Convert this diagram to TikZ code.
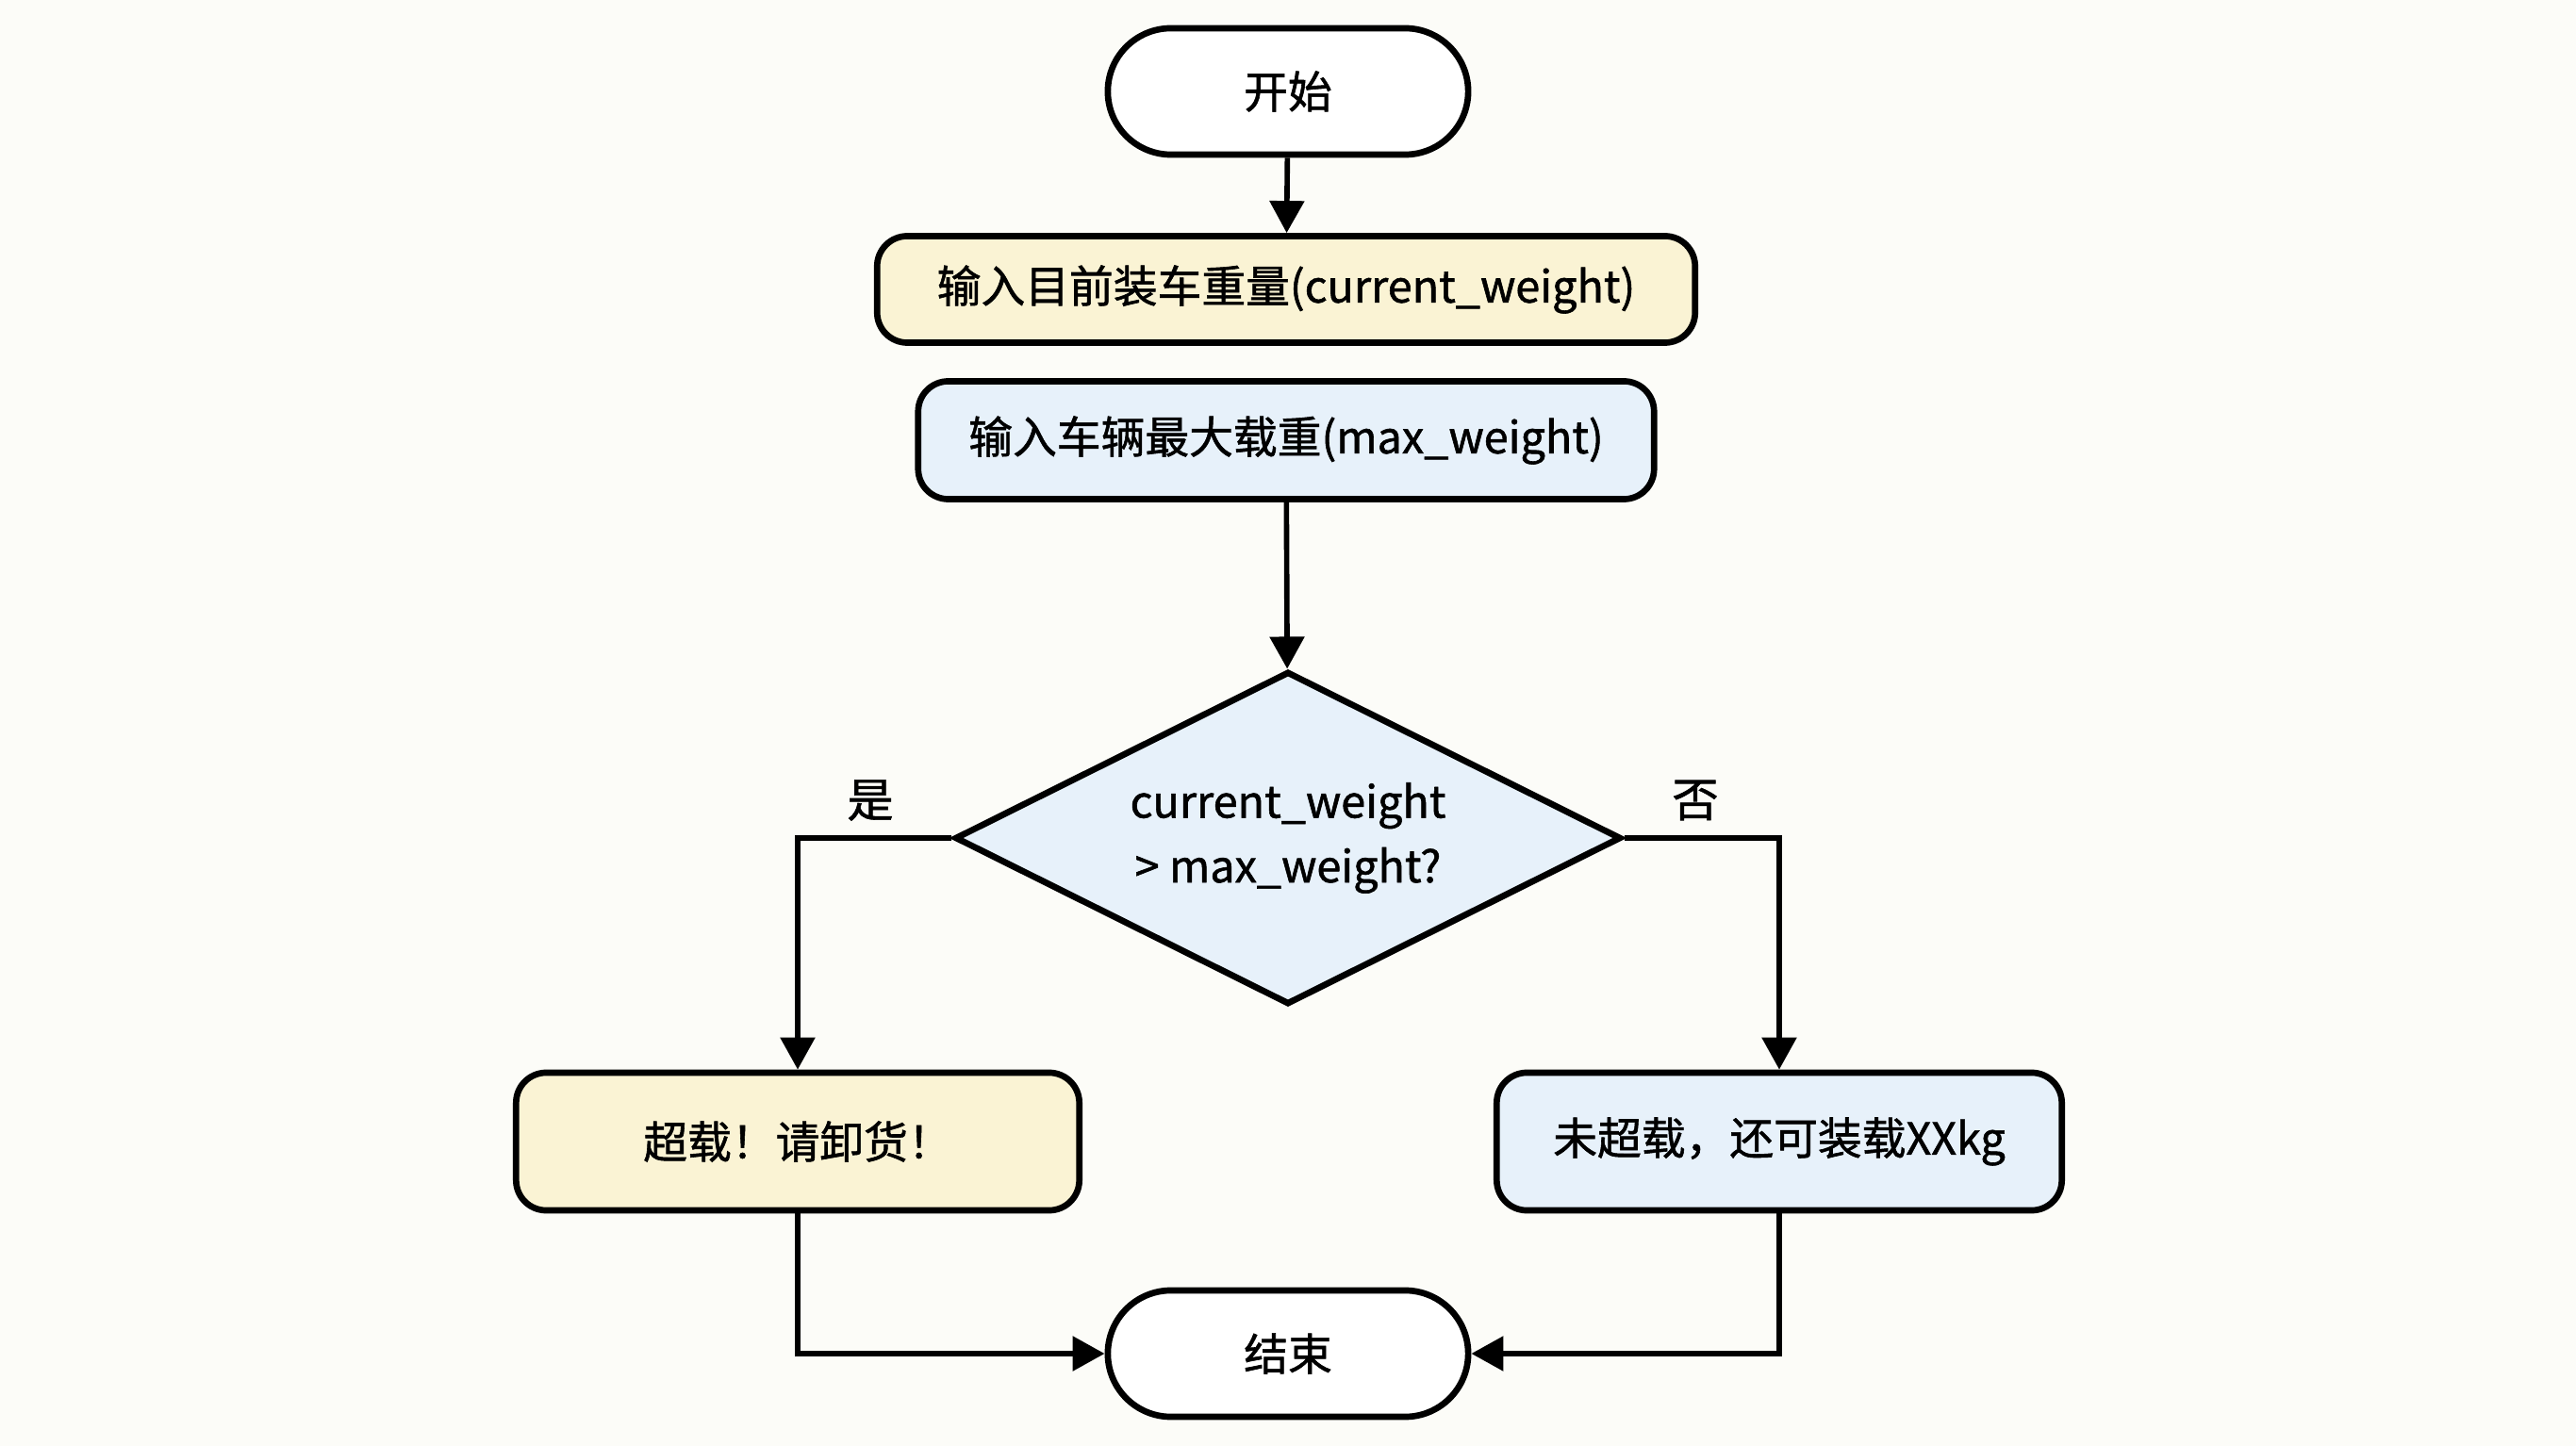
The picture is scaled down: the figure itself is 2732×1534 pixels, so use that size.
\documentclass[tikz,border=0pt]{standalone}
\usepackage{fontspec}
\setmainfont{Noto Sans CJK SC}[UprightFeatures={FakeBold=1.2}]
\usetikzlibrary{shapes.misc,shapes.geometric,arrows.meta}
\definecolor{bgc}{HTML}{FCFCF8}
\definecolor{yel}{HTML}{FAF3D4}
\definecolor{blu}{HTML}{E7F1FA}
\begin{document}
\begin{tikzpicture}[x=0.01cm,y=-0.01cm,
  every node/.style={font=\fontsize{13.3}{17}\selectfont},
  term/.style={draw,line width=1.9pt,rounded rectangle,fill=white,minimum width=3.82cm,minimum height=1.34cm,inner sep=0},
  procbox/.style={draw,line width=1.9pt,rectangle,rounded corners=0.32cm,inner sep=0},
  decis/.style={draw,line width=1.9pt,diamond,shape aspect=2,inner sep=0,fill=blu,minimum width=7.06cm,minimum height=3.53cm,align=center,font=\fontsize{13.3}{19.5}\selectfont},
  conn/.style={line width=1.6pt,-{Triangle[length=0.34cm,width=0.36cm]}},
  lbl/.style={font=\fontsize{14}{17}\selectfont}]
\fill[bgc] (0,0) rectangle (2732,1534);
\node[term] (start) at (1366,97) {开始};
\node[procbox,fill=yel,minimum width=8.67cm,minimum height=1.13cm] (in1) at (1364,307) {输入目前装车重量(current\_weight)};
\node[procbox,fill=blu,minimum width=7.80cm,minimum height=1.25cm] (in2) at (1364,467) {输入车辆最大载重(max\_weight)};
\node[decis] (dec) at (1366,889) {current\_weight\\> max\_weight?};
\node[procbox,fill=yel,minimum width=5.97cm,minimum height=1.46cm] (yes) at (846,1211) {超载！请卸货！};
\node[procbox,fill=blu,minimum width=5.99cm,minimum height=1.46cm] (no) at (1887,1211) {未超载，还可装载XXkg};
\node[term] (end) at (1366,1436) {结束};
\node[lbl] (ly) at (923,849) {是};
\node[lbl] (ln) at (1798,849) {否};
\draw[conn] (start) -- (in1);
\draw[conn] (in2) -- (dec);
\draw[conn] (dec.west) -| (yes.north);
\draw[conn] (dec.east) -| (no.north);
\draw[conn] (yes.south) |- (end.west);
\draw[conn] (no.south) |- (end.east);
\end{tikzpicture}
\end{document}
